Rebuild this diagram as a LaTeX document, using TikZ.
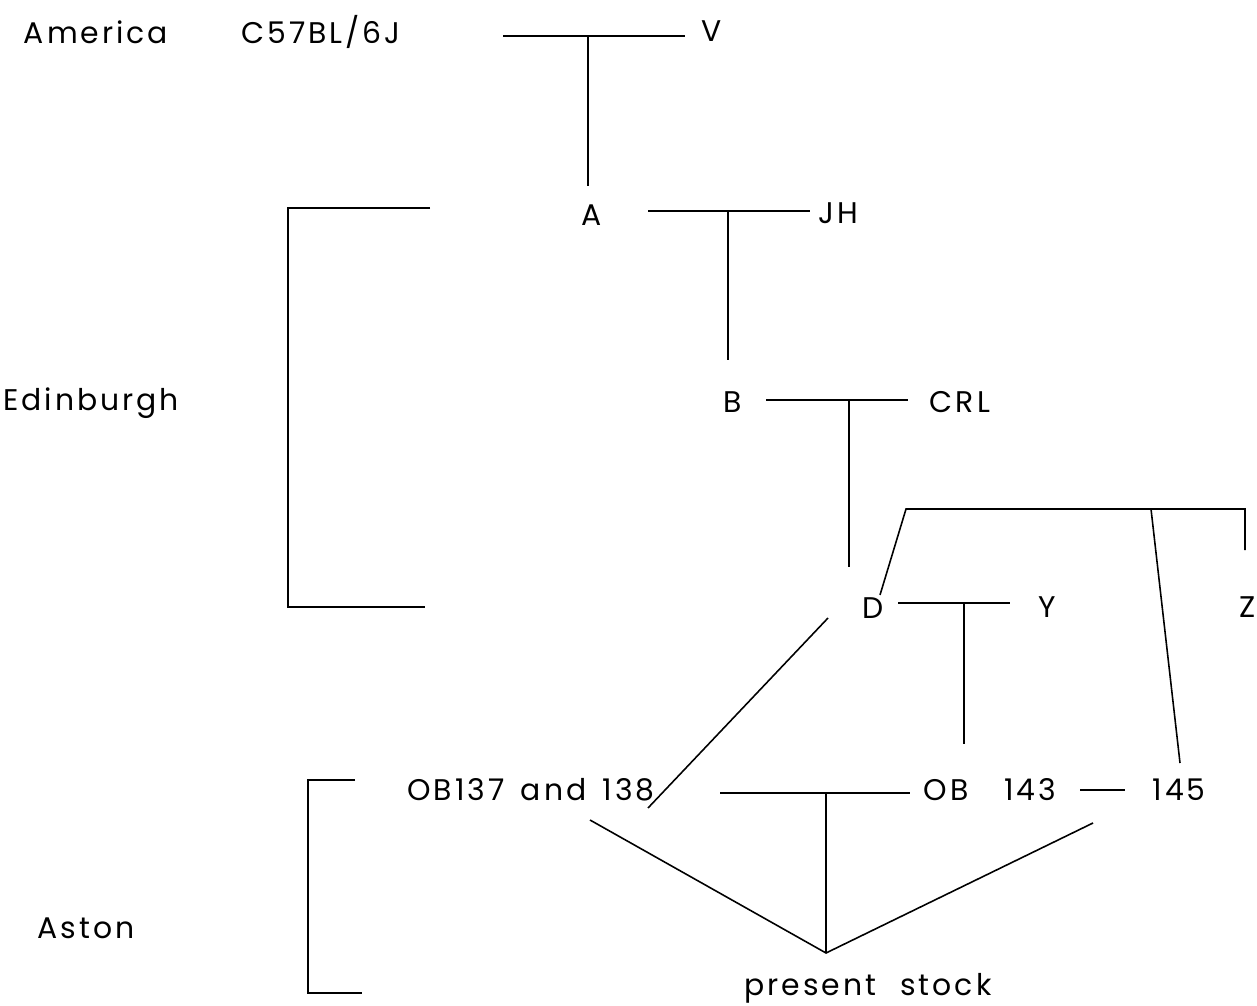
\documentclass[tikz,border=0pt]{standalone}
\usepackage{fontspec}
\setmainfont[LetterSpace=10]{Poppins}
\begin{document}
\begin{tikzpicture}[x=0.02cm,y=-0.02cm,
  lbl/.style={inner sep=0pt, font=\fontsize{17}{19}\selectfont},
  ln/.style={line width=0.9pt}]
\useasboundingbox (0,0) rectangle (1257,1006);
% labels
\node[lbl] (america) at (96,32) {America};
\node[lbl] (c57) at (321,32) {C57BL/6J};
\node[lbl] (V) at (712,31) {V};
\node[lbl] (A) at (592,215) {A};
\node[lbl] (JH) at (838,213) {JH};
\node[lbl] (edin) at (91,403) {Edinburgh};
\node[lbl] (B) at (733,402) {B};
\node[lbl] (CRL) at (960,402) {CRL};
\node[lbl] (D) at (873,608) {D};
\node[lbl] (Y) at (1047,607) {Y};
\node[lbl,anchor=west] (Z) at (1239,607) {Z};
\node[lbl] (ob137) at (531,790) {OB137\hspace{0.55em}and\hspace{0.55em}138};
\node[lbl] (ob143) at (990,790) {OB\hspace{1.2em}143};
\node[lbl] (n145) at (1179,790) {145};
\node[lbl] (aston) at (86,928) {Aston};
\node[lbl] (stock) at (868,988) {present\hspace{0.8em}stock};
% junction coordinates
\coordinate (v1) at (503,36); \coordinate (v2) at (685,36); \coordinate (vj) at (588,36); \coordinate (va) at (588,186);
\coordinate (j1) at (648,211); \coordinate (j2) at (810,211); \coordinate (jj) at (728,211); \coordinate (jb) at (728,360);
\coordinate (c1) at (766,400); \coordinate (c2) at (908,400); \coordinate (cj) at (849,400); \coordinate (cd) at (849,567);
\coordinate (y1) at (898,603); \coordinate (y2) at (1010,603); \coordinate (yj) at (964,603); \coordinate (yo) at (964,744);
\coordinate (t1) at (906,509); \coordinate (t2) at (1245,509); \coordinate (tz) at (1245,550); \coordinate (td) at (880,595);
\coordinate (tm) at (1151,509); \coordinate (t145) at (1180,763);
\coordinate (d1) at (828,618); \coordinate (d2) at (648,808);
\coordinate (o1) at (720,793); \coordinate (o2) at (910,793); \coordinate (oj) at (826,793);
\coordinate (h1) at (1080,790); \coordinate (h2) at (1125,790);
\coordinate (ps) at (826,953); \coordinate (pl) at (590,820); \coordinate (pr) at (1093,823);
% connectors
\draw[ln] (v1) -- (v2); \draw[ln] (vj) -- (va);
\draw[ln] (j1) -- (j2); \draw[ln] (jj) -- (jb);
\draw[ln] (c1) -- (c2); \draw[ln] (cj) -- (cd);
\draw[ln] (y1) -- (y2); \draw[ln] (yj) -- (yo);
\draw[ln] (td) -- (t1) -- (t2) -- (tz); \draw[ln] (tm) -- (t145);
\draw[ln] (d1) -- (d2);
\draw[ln] (o1) -- (o2); \draw[ln] (oj) -- (ps);
\draw[ln] (h1) -- (h2);
\draw[ln] (pl) -- (ps) -- (pr);
% brackets
\draw[ln] (430,208) -- (288,208) -- (288,607) -- (425,607);
\draw[ln] (355,780) -- (308,780) -- (308,993) -- (362,993);
\end{tikzpicture}
\end{document}
